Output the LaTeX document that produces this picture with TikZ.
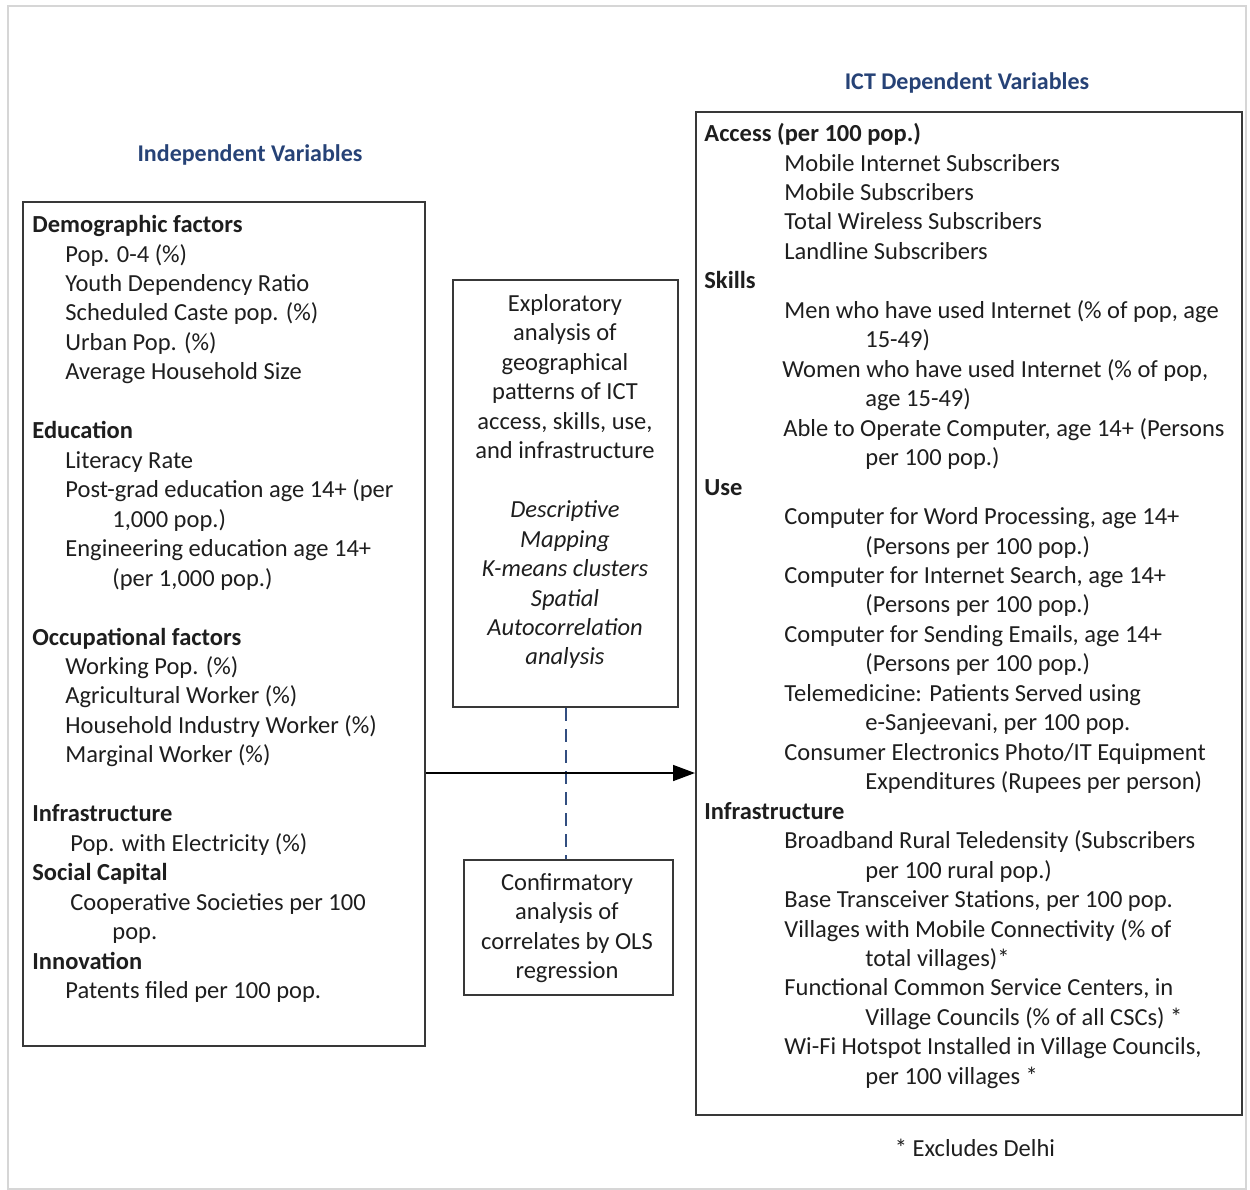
\documentclass[tikz,border=0pt]{standalone}
\usepackage{fontspec}
\setmainfont{Carlito}
\usetikzlibrary{arrows.meta}
\definecolor{titleblue}{RGB}{38,66,118}
\definecolor{framegray}{RGB}{214,214,214}
\definecolor{dashblue}{RGB}{50,78,128}
\definecolor{inkgray}{RGB}{30,30,30}
\begin{document}
\begin{tikzpicture}[x=0.5pt,y=-0.5pt,
  panel/.style={draw=black!78, line width=1pt, inner sep=0, anchor=north west},
  body/.style={font=\fontsize{12.25}{14.73}\selectfont, text=inkgray, inner sep=0},
  listtext/.style={body, anchor=north west, align=left},
  midtext/.style={body, anchor=north, align=center},
  heading/.style={font=\fontsize{12}{14}\selectfont\bfseries, text=titleblue, inner sep=0}
]
\useasboundingbox (0,0) rectangle (1250,1190);
% light outer frame
\draw[framegray, line width=1pt] (8,6) rectangle (1246,1189);

% headings
\node[heading] (hind) at (250,155) {Independent Variables};
\node[heading] (hdep) at (967,83) {ICT Dependent Variables};

% panels
\node[panel, minimum width=201pt, minimum height=422pt] (indep) at (22,201) {};
\node[panel, minimum width=273pt, minimum height=501.5pt] (dep) at (695,111) {};
\node[panel, minimum width=112.5pt, minimum height=213.5pt] (explore) at (452,279) {};
\node[panel, minimum width=104.5pt, minimum height=67.5pt] (confirm) at (463,859) {};

% independent variables list
\node[listtext] (indeplist) at (32,215) {%
\textbf{Demographic factors}\\
\hspace*{16.5pt}Pop. 0-4 (\%)\\
\hspace*{16.5pt}Youth Dependency Ratio\\
\hspace*{16.5pt}Scheduled Caste pop. (\%)\\
\hspace*{16.5pt}Urban Pop. (\%)\\
\hspace*{16.5pt}Average Household Size\\[14.73pt]
\textbf{Education}\\
\hspace*{16.5pt}Literacy Rate\\
\hspace*{16.5pt}Post-grad education age 14+ (per\\
\hspace*{40pt}1,000 pop.)\\
\hspace*{16.5pt}Engineering education age 14+\\
\hspace*{40pt}(per 1,000 pop.)\\[14.73pt]
\textbf{Occupational factors}\\
\hspace*{16.5pt}Working Pop. (\%)\\
\hspace*{16.5pt}Agricultural Worker (\%)\\
\hspace*{16.5pt}Household Industry Worker (\%)\\
\hspace*{16.5pt}Marginal Worker (\%)\\[14.73pt]
\textbf{Infrastructure}\\
\hspace*{19pt}Pop. with Electricity (\%)\\
\textbf{Social Capital}\\
\hspace*{19pt}Cooperative Societies per 100\\
\hspace*{40pt}pop.\\
\textbf{Innovation}\\
\hspace*{16.5pt}Patents filed per 100 pop.};

% dependent variables list
\node[listtext] (deplist) at (704,123) {%
\textbf{Access (per 100 pop.)}\\
\hspace*{40pt}Mobile Internet Subscribers\\
\hspace*{40pt}Mobile Subscribers\\
\hspace*{40pt}Total Wireless Subscribers\\
\hspace*{40pt}Landline Subscribers\\
\textbf{Skills}\\
\hspace*{40pt}Men who have used Internet (\% of pop, age\\
\hspace*{80.5pt}15-49)\\
\hspace*{39pt}Women who have used Internet (\% of pop,\\
\hspace*{80.5pt}age 15-49)\\
\hspace*{39.5pt}Able to Operate Computer, age 14+ (Persons\\
\hspace*{80.5pt}per 100 pop.)\\
\textbf{Use}\\
\hspace*{40pt}Computer for Word Processing, age 14+\\
\hspace*{80.5pt}(Persons per 100 pop.)\\
\hspace*{40pt}Computer for Internet Search, age 14+\\
\hspace*{80.5pt}(Persons per 100 pop.)\\
\hspace*{40pt}Computer for Sending Emails, age 14+\\
\hspace*{80.5pt}(Persons per 100 pop.)\\
\hspace*{40pt}Telemedicine: Patients Served using\\
\hspace*{80.5pt}e-Sanjeevani, per 100 pop.\\
\hspace*{40pt}Consumer Electronics Photo/IT Equipment\\
\hspace*{80.5pt}Expenditures (Rupees per person)\\
\textbf{Infrastructure}\\
\hspace*{40pt}Broadband Rural Teledensity (Subscribers\\
\hspace*{80.5pt}per 100 rural pop.)\\
\hspace*{40pt}Base Transceiver Stations, per 100 pop.\\
\hspace*{40pt}Villages with Mobile Connectivity (\% of\\
\hspace*{80.5pt}total villages)*\\
\hspace*{40pt}Functional Common Service Centers, in\\
\hspace*{80.5pt}Village Councils (\% of all CSCs) *\\
\hspace*{40pt}Wi-Fi Hotspot Installed in Village Councils,\\
\hspace*{80.5pt}per 100 villages *};

% analysis boxes
\node[midtext] (exploretext) at (565,294) {%
Exploratory\\
analysis of\\
geographical\\
patterns of ICT\\
access, skills, use,\\
and infrastructure\\[14.73pt]
\textit{Descriptive}\\
\textit{Mapping}\\
\textit{K-means clusters}\\
\textit{Spatial}\\
\textit{Autocorrelation}\\
\textit{analysis}};

\node[midtext] (confirmtext) at (567,873) {%
Confirmatory\\
analysis of\\
correlates by OLS\\
regression};

% footnote
\node[body] (note) at (975,1148) {* Excludes Delhi};

% connectors
\coordinate (arrowrow) at (0,773);
\draw[dashblue, line width=1pt, dash pattern=on 6.5pt off 4pt]
  (explore.south) -- (explore.south |- confirm.north);
\draw[black, line width=0.8pt, -{Triangle[length=11pt,width=8pt]}]
  (indep.east |- arrowrow) -- (dep.west |- arrowrow);
\end{tikzpicture}
\end{document}
